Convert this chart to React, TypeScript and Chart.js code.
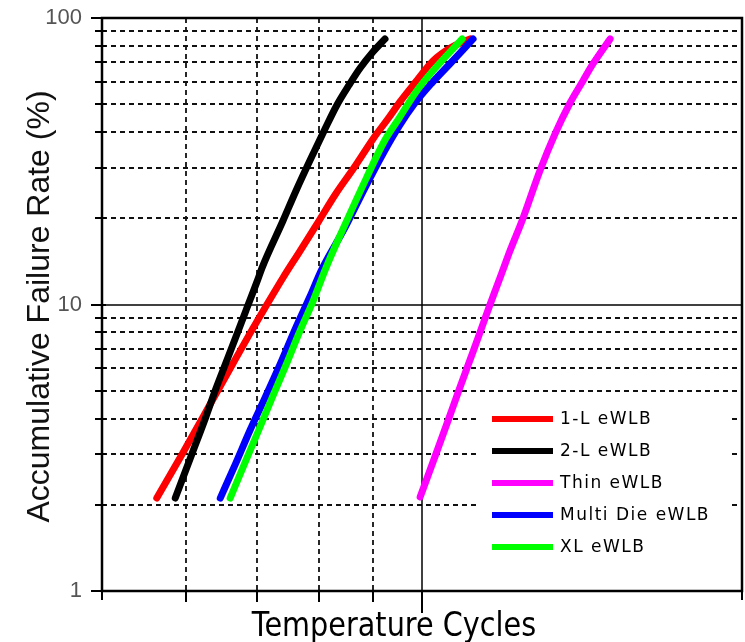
import React, { useEffect, useRef } from 'react';
import { Chart, registerables } from 'chart.js';

Chart.register(...registerables);

// ---- Series (x: temperature cycles, y: accumulative failure rate %) ----
const seriesNames = ['1-L eWLB', '2-L eWLB', 'Thin eWLB', 'Multi Die eWLB', 'XL eWLB'];
const seriesColors = ['#ff0000', '#000000', '#ff00ff', '#0000ff', '#00ff00'];
const seriesOrder = [3, 1, 4, 2, 0];

const oneLCycles = [563, 594, 635, 660, 689, 712, 740, 768, 800, 830, 863, 901, 929, 955, 985, 1024, 1067, 1110];
const oneLRate = [2.11, 2.98, 4.63, 5.98, 7.93, 9.76, 12.4, 15.4, 19.6, 24.4, 30.0, 38.2, 44.5, 51.4, 59.4, 70.8, 79.2, 84.5];

const twoLCycles = [586, 608, 626, 639, 657, 683, 700, 707, 740, 761, 790, 809, 832, 854, 875, 899, 923];
const twoLRate = [2.11, 3.03, 4.04, 5.01, 6.54, 9.53, 12.1, 13.4, 19.6, 24.9, 33.6, 40.4, 49.8, 58.4, 67.0, 76.1, 84.5];

const thinCycles = [996, 1028, 1060, 1083, 1118, 1157, 1188, 1210, 1242, 1291, 1334, 1378, 1417, 1448, 1503];
const thinRate = [2.13, 2.93, 4.01, 5.01, 6.91, 9.84, 12.8, 15.4, 19.6, 29.3, 39.4, 50.5, 60.3, 69.1, 84.5];

const multiDieCycles = [646, 668, 689, 712, 736, 761, 784, 806, 846, 884, 919, 952, 985, 1022, 1062, 1117];
const multiDieRate = [2.11, 2.79, 3.64, 4.74, 6.23, 8.32, 10.6, 13.4, 18.5, 25.6, 33.6, 42.0, 50.5, 59.4, 69.1, 84.5];

const xlCycles = [660, 681, 702, 723, 746, 766, 790, 812, 848, 886, 921, 952, 987, 1024, 1091];
const xlRate = [2.11, 2.79, 3.64, 4.74, 6.23, 7.93, 10.3, 13.4, 19.3, 27.5, 37.0, 44.8, 55.2, 65.4, 84.5];

const seriesCycles = [oneLCycles, twoLCycles, thinCycles, multiDieCycles, xlCycles];
const seriesRates = [oneLRate, twoLRate, thinRate, multiDieRate, xlRate];

// ---- Axes ----
const xMin = 500;
const xMax = 2000;
const yMin = 1;
const yMax = 100;
const yMajorTicks = [1, 10, 100];
const yMinorTicks = [2, 3, 4, 5, 6, 7, 8, 9, 20, 30, 40, 50, 60, 70, 80, 90];
const xDashedTicks = [600, 700, 800, 900];
const xSolidTicks = [1000];
const xEdgeTicks = [500, 2000];
const ySolidLines = [10];
const xTitle = 'Temperature Cycles';
const yTitle = 'Accumulative Failure Rate (%)';

const framePlugin = {
  id: 'frame',
  beforeDatasetsDraw(chart: any) {
    const { ctx, chartArea: a, scales } = chart;
    const xs = scales.x;
    const ys = scales.y;
    const hLine = (py: number) => {
      ctx.beginPath();
      ctx.moveTo(a.left, py);
      ctx.lineTo(a.right, py);
      ctx.stroke();
    };
    const vLine = (px: number) => {
      ctx.beginPath();
      ctx.moveTo(px, a.top);
      ctx.lineTo(px, a.bottom);
      ctx.stroke();
    };
    ctx.save();
    ctx.fillStyle = '#ffffff';
    ctx.fillRect(0, 0, chart.width, chart.height);

    // dashed grid
    ctx.strokeStyle = '#111';
    ctx.lineWidth = 1.8;
    ctx.setLineDash([5, 4]);
    yMinorTicks.forEach((v) => hLine(Math.round(ys.getPixelForValue(v))));
    xDashedTicks.forEach((v) => vLine(Math.round(xs.getPixelForValue(v))));
    ctx.setLineDash([]);

    // solid reference lines
    ctx.strokeStyle = '#000';
    ctx.lineWidth = 1.5;
    ySolidLines.forEach((v) => hLine(Math.round(ys.getPixelForValue(v))));
    xSolidTicks.forEach((v) => vLine(Math.round(xs.getPixelForValue(v))));

    // frame
    ctx.lineWidth = 2.5;
    ctx.strokeRect(a.left, a.top, a.right - a.left, a.bottom - a.top);

    // y tick marks
    ctx.lineWidth = 2;
    yMajorTicks.forEach((v) => {
      const py = Math.round(ys.getPixelForValue(v));
      ctx.beginPath();
      ctx.moveTo(a.left - 11, py);
      ctx.lineTo(a.left + 4, py);
      ctx.stroke();
    });
    yMinorTicks.forEach((v) => {
      const py = Math.round(ys.getPixelForValue(v));
      ctx.beginPath();
      ctx.moveTo(a.left - 7, py);
      ctx.lineTo(a.left + 4, py);
      ctx.stroke();
    });
    // x tick marks
    const xTick = (v: number, len: number) => {
      const px = Math.round(xs.getPixelForValue(v));
      ctx.beginPath();
      ctx.moveTo(px, a.bottom);
      ctx.lineTo(px, a.bottom + len);
      ctx.stroke();
    };
    xEdgeTicks.forEach((v) => xTick(v, 9));
    xDashedTicks.forEach((v) => xTick(v, 11));
    xSolidTicks.forEach((v) => xTick(v, 22));

    // y tick labels
    ctx.fillStyle = '#555';
    ctx.font = '22px "Liberation Sans", Arial, sans-serif';
    ctx.textAlign = 'right';
    ctx.textBaseline = 'middle';
    yMajorTicks.forEach((v) => {
      ctx.fillText(String(v), a.left - 20, ys.getPixelForValue(v));
    });

    // y title
    ctx.save();
    ctx.translate(40, (a.top + a.bottom) / 2 + 2);
    ctx.rotate(-Math.PI / 2);
    ctx.fillStyle = '#111';
    ctx.font = '32px "Liberation Sans", Arial, sans-serif';
    ctx.textAlign = 'center';
    ctx.textBaseline = 'middle';
    ctx.fillText(yTitle, 0, 0);
    ctx.restore();

    // x title
    ctx.save();
    ctx.translate((a.left + a.right) / 2 - 28, a.bottom + 45);
    ctx.scale(0.87, 1);
    ctx.fillStyle = '#000';
    ctx.font = '33px "DejaVu Sans", sans-serif';
    ctx.textAlign = 'center';
    ctx.textBaseline = 'alphabetic';
    ctx.fillText(xTitle, 0, 0);
    ctx.restore();

    ctx.restore();
  },
  afterDatasetsDraw(chart: any) {
    const { ctx, chartArea: a } = chart;
    ctx.save();
    const boxLeft = a.left + 377;
    const boxTop = a.top + 380;
    ctx.fillStyle = '#ffffff';
    ctx.fillRect(boxLeft, boxTop, 250, 168);
    ctx.lineCap = 'butt';
    ctx.font = '17px "DejaVu Sans", sans-serif';
    (ctx as any).letterSpacing = '1.5px';
    ctx.textAlign = 'left';
    ctx.textBaseline = 'middle';
    seriesNames.forEach((name, i) => {
      const yy = boxTop + 21 + i * 32;
      ctx.strokeStyle = seriesColors[i];
      ctx.lineWidth = 6;
      ctx.beginPath();
      ctx.moveTo(boxLeft + 13, yy);
      ctx.lineTo(boxLeft + 74, yy);
      ctx.stroke();
      ctx.fillStyle = '#000';
      ctx.fillText(name, boxLeft + 81, yy + 1);
    });
    ctx.restore();
  },
};

export default function App() {
  const canvasRef = useRef<HTMLCanvasElement | null>(null);

  useEffect(() => {
    if (!canvasRef.current) return;
    const datasets = seriesNames.map((name, i) => ({
      label: name,
      data: seriesCycles[i].map((x, j) => ({ x, y: seriesRates[i][j] })),
      borderColor: seriesColors[i],
      backgroundColor: seriesColors[i],
      borderWidth: 7,
      pointRadius: 0,
      showLine: true,
      cubicInterpolationMode: 'monotone' as const,
      borderJoinStyle: 'round' as const,
      borderCapStyle: 'round' as const,
      order: seriesOrder[i],
    }));
    const chart = new Chart(canvasRef.current, {
      type: 'scatter',
      data: { datasets },
      options: {
        responsive: false,
        animation: false,
        layout: { padding: { left: 102, top: 18, right: 3, bottom: 51 } },
        scales: {
          x: { type: 'logarithmic', min: xMin, max: xMax, display: false },
          y: { type: 'logarithmic', min: yMin, max: yMax, display: false },
        },
        plugins: {
          legend: { display: false },
          tooltip: { enabled: false },
        },
      },
      plugins: [framePlugin],
    });
    return () => chart.destroy();
  }, []);

  return (
    <div style={{ position: 'absolute', left: 0, top: 0, width: 745, height: 642, background: '#fff' }}>
      <canvas ref={canvasRef} width={745} height={642} />
    </div>
  );
}
